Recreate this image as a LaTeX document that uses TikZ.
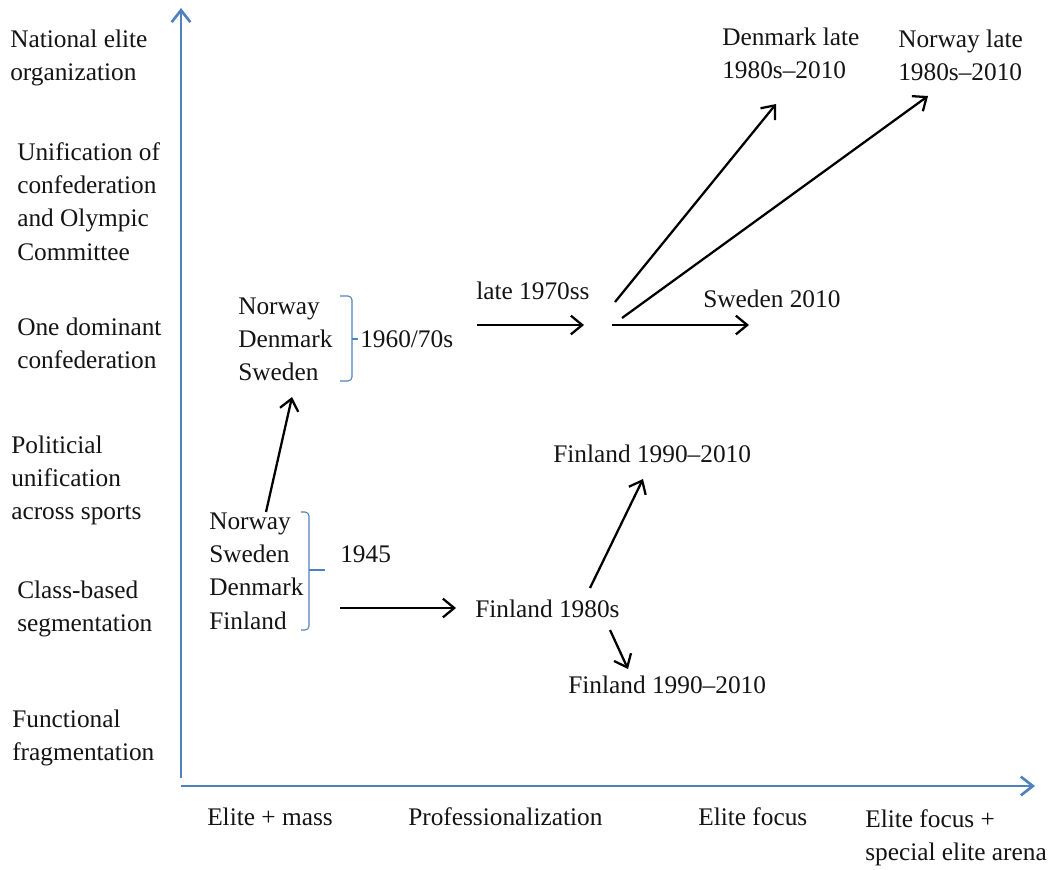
\documentclass[tikz,border=0pt]{standalone}
\usepackage{fontspec}
\setmainfont{Liberation Serif}
\usetikzlibrary{arrows.meta}
\definecolor{axisblue}{RGB}{79,129,189}
\definecolor{txt}{RGB}{20,20,20}
\newcommand\stk[1]{\begin{tabular}[t]{@{}l@{}}#1\end{tabular}}
\begin{document}
\begin{tikzpicture}[x=0.75pt,y=-0.75pt,
  lbl/.style={anchor=base west,inner sep=0pt,text=txt,font=\fontsize{19}{25}\selectfont},
  axisline/.style={draw=axisblue,line width=2pt,-{Straight Barb[length=9pt,width=14pt,line width=2pt]}},
  arr/.style={draw=black,line width=1.7pt,-{Straight Barb[length=8.5pt,width=14pt,line width=1.7pt]}},
  brk/.style={draw=axisblue,line width=0.8pt,rounded corners=3}]
\useasboundingbox (0,0) rectangle (1052,869);
% axes
\coordinate (O) at (181,786);
\coordinate (ytop) at (181,8);
\coordinate (xend) at (1035,786);
\draw[axisline] (181,778) -- (ytop);
\draw[axisline] (181,786) -- (xend);
% y labels
\node[lbl] (y6) at (10,47) {\stk{National elite\\organization}};
\node[lbl] (y5) at (17,160) {\stk{Unification of\\confederation\\and Olympic\\Committee}};
\node[lbl] (y4) at (17,335) {\stk{One dominant\\confederation}};
\node[lbl] (y3) at (11,453) {\stk{Politicial\\unification\\across sports}};
\node[lbl] (y2) at (17,598) {\stk{Class-based\\segmentation}};
\node[lbl] (y1) at (12,727) {\stk{Functional\\fragmentation}};
% x labels
\node[lbl] (x1) at (207,825) {Elite + mass};
\node[lbl] (x2) at (408,825) {Professionalization};
\node[lbl] (x3) at (698,825) {Elite focus};
\node[lbl] (x4) at (865,827) {\stk{Elite focus +\\special elite arena}};
% groups
\node[lbl] (g1) at (238,314) {\stk{Norway\\Denmark\\Sweden}};
\node[lbl] (g1y) at (360,347) {1960/70s};
\node[lbl] (g2) at (209,529) {\stk{Norway\\Sweden\\Denmark\\Finland}};
\node[lbl] (g2y) at (340,562) {1945};
\draw[brk] (340,296) -- (352,296) -- (352,381) -- (340,381);
\draw[brk] (352,339) -- (358,339);
\draw[brk] (301,512) -- (309,512) -- (309,630) -- (301,630);
\draw[brk] (309,570) -- (325,570);
% other labels
\node[lbl] (late70) at (476,299) {late 1970ss};
\node[lbl] (swe) at (703,307) {Sweden 2010};
\node[lbl] (den) at (722,45) {\stk{Denmark late\\1980s--2010}};
\node[lbl] (nor) at (898,47) {\stk{Norway late\\1980s--2010}};
\node[lbl] (fin80) at (475,617) {Finland 1980s};
\node[lbl] (finA) at (553,462) {Finland 1990--2010};
\node[lbl] (finB) at (568,693) {Finland 1990--2010};
% arrow endpoints
\coordinate (a1s) at (266,512); \coordinate (a1e) at (292,397);
\coordinate (a2s) at (340,608); \coordinate (a2e) at (456,608);
\coordinate (a3s) at (590,588); \coordinate (a3e) at (643,479);
\coordinate (a4s) at (610,630); \coordinate (a4e) at (628,669);
\coordinate (a5s) at (477,325); \coordinate (a5e) at (584,325);
\coordinate (a6s) at (612,325); \coordinate (a6e) at (749,325);
\coordinate (a7s) at (615,302); \coordinate (a7e) at (776,104);
\coordinate (a8s) at (622,318); \coordinate (a8e) at (928,96);
\foreach \i in {1,...,8} {\draw[arr] (a\i s) -- (a\i e);}
\end{tikzpicture}
\end{document}
